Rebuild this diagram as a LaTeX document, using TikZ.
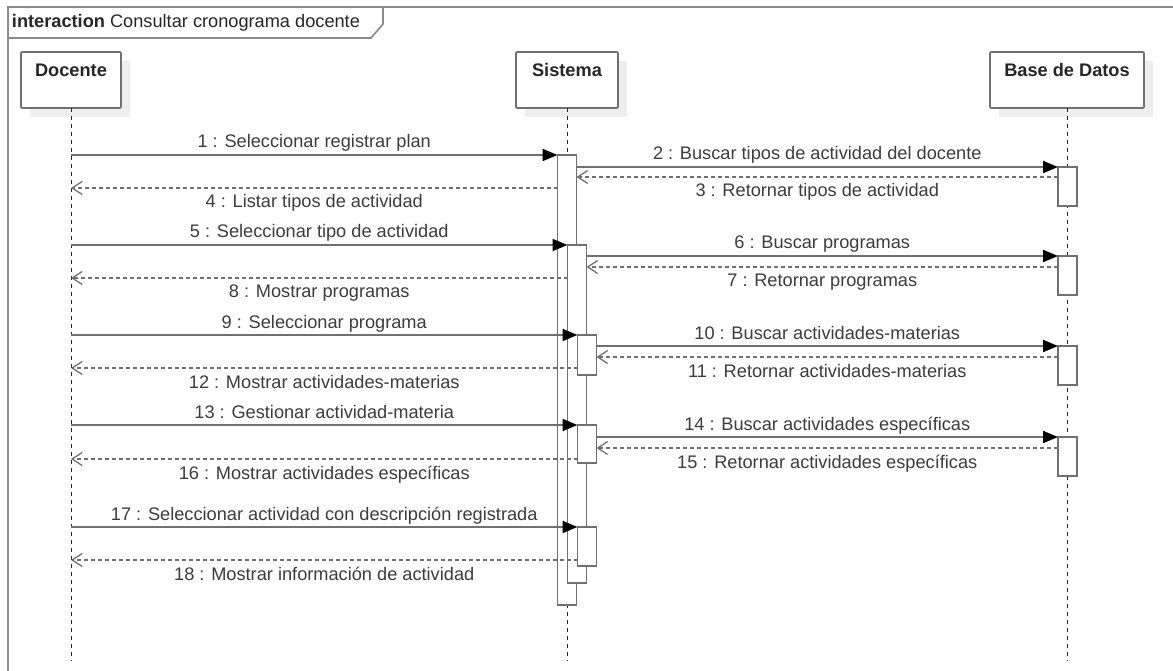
\documentclass[tikz,border=0pt]{standalone}
\usepackage{fontspec}
\setmainfont{Liberation Sans}
\usetikzlibrary{arrows.meta}
\definecolor{ln}{HTML}{707070}
\definecolor{framec}{HTML}{8A8A8A}
\definecolor{txt}{HTML}{3C3C3C}
\definecolor{shade}{HTML}{EEEEEE}

\begin{document}
\begin{tikzpicture}[x=1pt,y=-1pt,
  every node/.style={inner sep=0pt, outer sep=0pt},
  msgtxt/.style={font=\fontsize{18.2}{20}\selectfont, text=txt, anchor=base},
  above lbl/.style={msgtxt, yshift=7pt},
  below lbl/.style={msgtxt, yshift=-20pt},
  headbox/.style={draw=ln, line width=1.6pt, fill=white, rounded corners=1pt, minimum height=56pt},
  headtxt/.style={font=\fontsize{18.2}{20}\selectfont\bfseries, text=black!85, anchor=base},
  shadowbox/.style={fill=shade, minimum height=56pt},
  lifeline/.style={draw=black!85, line width=1pt, dash pattern=on 4pt off 4pt},
  bar/.style={draw=ln, line width=1.6pt, fill=white, minimum width=19pt, anchor=north},
  call/.style={draw=ln, line width=2pt, -{Triangle[length=15pt,width=12pt,color=black]}},
  reply/.style={draw=ln, line width=2pt, dash pattern=on 4pt off 3pt,
    -{Straight Barb[length=10pt,width=13pt,line width=1.3pt]}},
]
\clip (0,0) rectangle (1173,671);

% interaction frame (runs past the page at right and bottom)
\draw[framec, line width=2pt] (8,700) -- (8,7) -- (1200,7);
\draw[framec, line width=1.6pt] (8,38) -- (371,38) -- (383,24) -- (383,7);
\node[anchor=base west, font=\fontsize{18.2}{20}\selectfont, text=black!85] (title) at (12,28)
  {\textbf{interaction} Consultar cronograma docente};

% lifeline heads with their drop shadows
\node[shadowbox, minimum width=100pt] (docSh) at (80,89) {};
\node[shadowbox, minimum width=102pt] (sisSh) at (576,89) {};
\node[shadowbox, minimum width=154pt] (bdSh) at (1076,89) {};
\node[headbox, minimum width=100pt] (doc) at (71,80) {};
\node[headbox, minimum width=102pt] (sis) at (567,80) {};
\node[headbox, minimum width=154pt] (bd) at (1067,80) {};
\node[headtxt] (docT) at (71,77) {Docente};
\node[headtxt] (sisT) at (567,77) {Sistema};
\node[headtxt] (bdT) at (1067,77) {Base de Datos};

% lifelines
\coordinate (docEnd) at (71,661);
\coordinate (sisEnd) at (567,661);
\coordinate (bdEnd) at (1067.5,661);
\draw[lifeline] (doc.south) -- (docEnd);
\draw[lifeline] (sis.south) -- (sisEnd);
\draw[lifeline] (bd.south -| bdEnd) -- (bdEnd);

% activation bars on Sistema (nested) and on Base de Datos
\node[bar, minimum height=450pt] (s1) at (567,155) {};
\node[bar, minimum height=338pt] (s2) at (577,245) {};
\node[bar, minimum height=40pt] (s3) at (587,335) {};
\node[bar, minimum height=38pt] (s4) at (587,425) {};
\node[bar, minimum height=39pt] (s5) at (587,527) {};
\node[bar, minimum height=39pt] (b1) at (1067.5,167) {};
\node[bar, minimum height=39pt] (b2) at (1067.5,256) {};
\node[bar, minimum height=39pt] (b3) at (1067.5,346) {};
\node[bar, minimum height=39pt] (b4) at (1067.5,437) {};

% message levels on the Docente lifeline
\coordinate (y1) at (71,155);  \coordinate (y3) at (71,177);  \coordinate (y4) at (71,188);
\coordinate (y5) at (71,245);  \coordinate (y7) at (71,267);  \coordinate (y8) at (71,278);
\coordinate (y9) at (71,335);  \coordinate (y11) at (71,357); \coordinate (y12) at (71,368);
\coordinate (y13) at (71,425); \coordinate (y15) at (71,448); \coordinate (y16) at (71,459);
\coordinate (y17) at (71,527); \coordinate (y18) at (71,560);

% messages
\draw[call] (y1) -- (s1.north west) node[midway, above lbl] {1 : Seleccionar registrar plan};
\draw[call] (b1.north west -| s1.east) -- (b1.north west) node[midway, above lbl] {2 : Buscar tipos de actividad del docente};
\draw[reply] (b1.west |- y3) -- (s1.east |- y3) node[midway, below lbl] {3 : Retornar tipos de actividad};
\draw[reply] (s1.west |- y4) -- (y4) node[midway, below lbl] {4 : Listar tipos de actividad};

\draw[call] (y5) -- (s2.north west) node[midway, above lbl] {5 : Seleccionar tipo de actividad};
\draw[call] (b2.north west -| s2.east) -- (b2.north west) node[midway, above lbl] {6 : Buscar programas};
\draw[reply] (b2.west |- y7) -- (s2.east |- y7) node[midway, below lbl] {7 : Retornar programas};
\draw[reply] (s2.west |- y8) -- (y8) node[midway, below lbl] {8 : Mostrar programas};

\draw[call] (y9) -- (s3.north west) node[midway, above lbl] {9 : Seleccionar programa};
\draw[call] (b3.north west -| s3.east) -- (b3.north west) node[midway, above lbl] {10 : Buscar actividades-materias};
\draw[reply] (b3.west |- y11) -- (s3.east |- y11) node[midway, below lbl] {11 : Retornar actividades-materias};
\draw[reply] (s3.west |- y12) -- (y12) node[midway, below lbl] {12 : Mostrar actividades-materias};

\draw[call] (y13) -- (s4.north west) node[midway, above lbl] {13 : Gestionar actividad-materia};
\draw[call] (b4.north west -| s4.east) -- (b4.north west) node[midway, above lbl] {14 : Buscar actividades específicas};
\draw[reply] (b4.west |- y15) -- (s4.east |- y15) node[midway, below lbl] {15 : Retornar actividades específicas};
\draw[reply] (s4.west |- y16) -- (y16) node[midway, below lbl] {16 : Mostrar actividades específicas};

\draw[call] (y17) -- (s5.north west) node[midway, above lbl] {17 : Seleccionar actividad con descripción registrada};
\draw[reply] (s5.west |- y18) -- (y18) node[midway, below lbl] {18 : Mostrar información de actividad};
\end{tikzpicture}
\end{document}
